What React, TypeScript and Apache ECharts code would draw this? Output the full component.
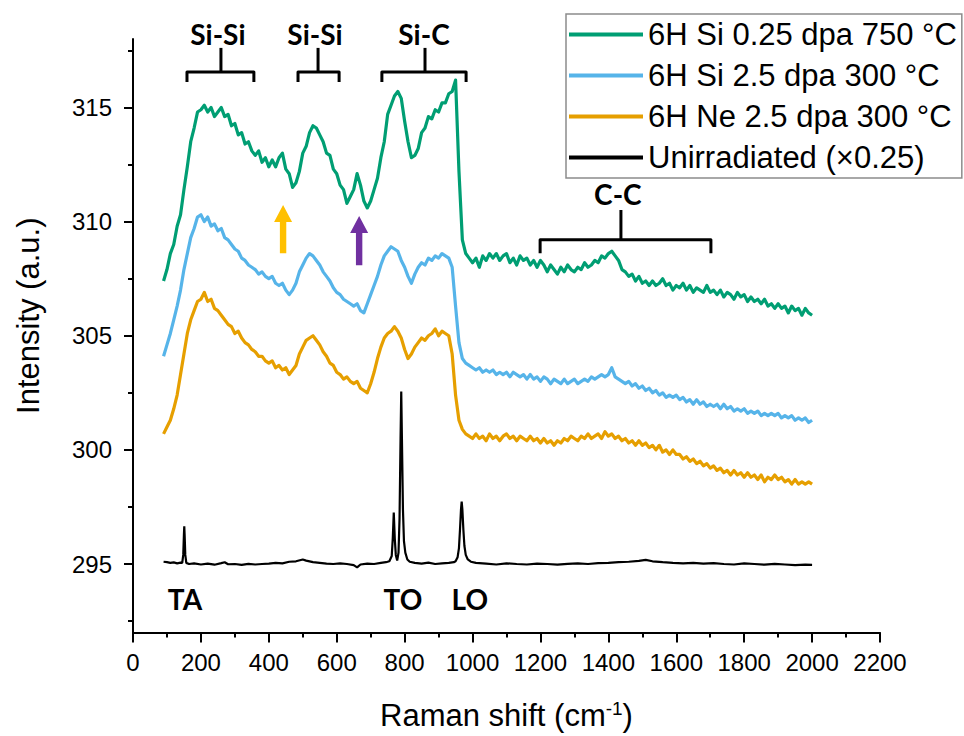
import React, { useEffect, useRef } from "react";
import * as echarts from "echarts";

// Raman shift grid (cm^-1) for the irradiated spectra
const ramanShift = [
  90, 100, 110, 120, 130, 140, 150, 160, 170, 180,
  190, 200, 210, 220, 230, 240, 250, 260, 270, 280,
  290, 300, 310, 320, 330, 340, 350, 360, 370, 380,
  390, 400, 410, 420, 430, 440, 450, 460, 470, 480,
  490, 500, 510, 520, 530, 540, 550, 560, 570, 580,
  590, 600, 610, 620, 630, 640, 650, 660, 670, 680,
  690, 700, 710, 720, 730, 740, 750, 760, 770, 780,
  790, 800, 810, 820, 830, 840, 850, 860, 870, 880,
  890, 900, 910, 920, 930, 940, 950, 960, 970, 980,
  990, 1000, 1010, 1020, 1030, 1040, 1050, 1060, 1070, 1080,
  1090, 1100, 1110, 1120, 1130, 1140, 1150, 1160, 1170, 1180,
  1190, 1200, 1210, 1220, 1230, 1240, 1250, 1260, 1270, 1280,
  1290, 1300, 1310, 1320, 1330, 1340, 1350, 1360, 1370, 1380,
  1390, 1400, 1410, 1420, 1430, 1440, 1450, 1460, 1470, 1480,
  1490, 1500, 1510, 1520, 1530, 1540, 1550, 1560, 1570, 1580,
  1590, 1600, 1610, 1620, 1630, 1640, 1650, 1660, 1670, 1680,
  1690, 1700, 1710, 1720, 1730, 1740, 1750, 1760, 1770, 1780,
  1790, 1800, 1810, 1820, 1830, 1840, 1850, 1860, 1870, 1880,
  1890, 1900, 1910, 1920, 1930, 1940, 1950, 1960, 1970, 1980,
  1990, 2000,
];

// 6H Si 0.25 dpa 750 °C
const siLowDose750 = [
  307.4, 307.9, 308.6, 309.0, 309.8, 310.3, 311.4, 312.4, 313.5, 314.1,
  314.8, 314.9, 315.1, 314.8, 315.0, 314.6, 314.8, 315.0, 314.6, 314.7,
  314.2, 314.3, 313.8, 313.9, 313.4, 313.5, 313.1, 312.9, 313.1, 312.6,
  312.8, 312.4, 312.7, 312.4, 312.8, 313.0, 312.3, 312.1, 311.5, 311.7,
  312.2, 313.0, 313.3, 313.9, 314.2, 314.1, 313.8, 313.5, 313.0, 312.9,
  312.3, 312.1, 311.6, 311.4, 310.8, 311.1, 311.4, 312.1, 311.6, 310.9,
  310.6, 310.9, 311.4, 311.9, 312.8, 313.5, 314.7, 315.1, 315.5, 315.7,
  315.4, 314.4, 313.5, 312.8, 312.9, 313.2, 313.9, 314.1, 314.6, 314.5,
  314.9, 314.8, 315.2, 315.2, 315.6, 315.7, 316.2, 312.2, 309.2, 308.6,
  308.4, 308.2, 308.4, 308.0, 308.5, 308.3, 308.6, 308.4, 308.6, 308.3,
  308.5, 308.6, 308.2, 308.4, 308.1, 308.5, 308.3, 308.4, 308.1, 308.3,
  308.0, 308.3, 308.1, 307.8, 308.1, 307.9, 307.7, 308.0, 307.8, 308.1,
  307.9, 307.8, 308.0, 307.9, 308.2, 308.0, 308.1, 308.3, 308.2, 308.5,
  308.4, 308.6, 308.7, 308.5, 308.3, 307.9, 307.8, 307.6, 307.7, 307.4,
  307.6, 307.3, 307.4, 307.2, 307.4, 307.2, 307.3, 307.5, 307.2, 307.3,
  307.0, 307.2, 307.1, 307.3, 307.0, 307.2, 306.9, 307.1, 307.0, 306.9,
  307.2, 306.9, 307.0, 306.8, 307.0, 306.7, 306.9, 306.8, 306.6, 306.9,
  306.7, 306.8, 306.5, 306.7, 306.5, 306.6, 306.4, 306.6, 306.3, 306.4,
  306.2, 306.4, 306.2, 306.3, 306.0, 306.3, 306.1, 306.2, 305.9, 306.2,
  306.0, 305.9,
];

// 6H Si 2.5 dpa 300 °C
const siHighDose300 = [
  304.1, 304.6, 305.1, 305.7, 306.3, 307.0, 307.9, 308.6, 309.3, 309.7,
  310.2, 310.3, 310.0, 310.2, 309.8, 309.9, 309.6, 309.7, 309.3, 309.2,
  309.0, 308.8, 308.7, 308.4, 308.3, 308.1, 308.0, 307.9, 307.7, 307.8,
  307.6, 307.5, 307.6, 307.3, 307.2, 307.3, 307.0, 306.8, 307.0, 307.3,
  307.8, 308.1, 308.4, 308.6, 308.5, 308.3, 308.1, 307.8, 307.6, 307.4,
  307.1, 306.9, 306.8, 306.6, 306.5, 306.4, 306.3, 306.4, 306.1, 306.0,
  306.4, 306.8, 307.2, 307.6, 308.1, 308.5, 308.7, 308.9, 308.8, 308.7,
  308.3, 308.0, 307.6, 307.3, 307.7, 308.0, 308.2, 308.1, 308.4, 308.3,
  308.5, 308.4, 308.6, 308.5, 308.4, 308.0, 306.3, 304.7, 304.0, 303.8,
  303.7, 303.6, 303.5, 303.6, 303.4, 303.5, 303.4, 303.5, 303.3, 303.4,
  303.3, 303.4, 303.2, 303.4, 303.3, 303.2, 303.3, 303.1, 303.3, 303.1,
  303.2, 303.0, 303.2, 303.1, 302.9, 303.1, 303.0, 302.9, 303.1, 302.9,
  303.0, 303.1, 302.9, 303.0, 303.1, 303.0, 303.2, 303.1, 303.2, 303.3,
  303.2, 303.3, 303.6, 303.2, 303.1, 303.0, 302.9, 303.0, 302.8, 302.9,
  302.7, 302.8, 302.6, 302.7, 302.5, 302.6, 302.4, 302.5, 302.3, 302.4,
  302.3, 302.4, 302.2, 302.3, 302.1, 302.2, 302.0, 302.2, 302.0, 302.1,
  301.9, 302.0, 301.9, 302.0, 301.8, 302.0, 301.8, 301.9, 301.7, 301.8,
  301.7, 301.8, 301.6, 301.7, 301.6, 301.7, 301.5, 301.6, 301.5, 301.6,
  301.5, 301.6, 301.4, 301.5, 301.4, 301.5, 301.3, 301.4, 301.3, 301.4,
  301.2, 301.3,
];

// 6H Ne 2.5 dpa 300 °C
const neHighDose300 = [
  300.7, 301.0, 301.3, 301.8, 302.4, 303.3, 304.2, 305.1, 305.7, 306.1,
  306.5, 306.6, 306.9, 306.5, 306.6, 306.2, 306.1, 305.9, 305.7, 305.5,
  305.4, 305.1, 305.2, 304.9, 304.7, 304.6, 304.4, 304.3, 304.1, 304.1,
  303.9, 303.8, 303.9, 303.6, 303.7, 303.5, 303.6, 303.3, 303.5, 303.7,
  304.2, 304.5, 304.8, 304.9, 305.0, 304.8, 304.6, 304.3, 304.1, 303.8,
  303.7, 303.4, 303.3, 303.1, 303.2, 303.0, 302.9, 303.0, 302.7, 302.6,
  302.5, 302.9, 303.4, 304.0, 304.5, 304.9, 305.1, 305.2, 305.4, 305.2,
  304.9, 304.4, 304.0, 304.2, 304.5, 304.7, 304.9, 304.8, 305.0, 305.1,
  305.3, 305.0, 305.2, 305.1, 305.0, 304.2, 302.4, 301.3, 300.9, 300.7,
  300.6, 300.5, 300.7, 300.5, 300.6, 300.4, 300.7, 300.5, 300.6, 300.4,
  300.6, 300.7, 300.5, 300.6, 300.4, 300.6, 300.5, 300.4, 300.6, 300.4,
  300.5, 300.3, 300.5, 300.3, 300.4, 300.2, 300.4, 300.3, 300.5, 300.4,
  300.6, 300.5, 300.4, 300.6, 300.5, 300.7, 300.5, 300.6, 300.7, 300.5,
  300.8, 300.6, 300.7, 300.5, 300.6, 300.4, 300.5, 300.3, 300.4, 300.2,
  300.4, 300.2, 300.3, 300.1, 300.2, 300.0, 300.2, 299.9, 300.0, 299.8,
  300.0, 299.8, 299.8, 299.6, 299.7, 299.5, 299.6, 299.4, 299.5, 299.3,
  299.4, 299.2, 299.3, 299.1, 299.2, 299.0, 299.1, 298.9, 299.1, 298.9,
  299.0, 298.8, 299.0, 298.8, 298.9, 298.7, 298.9, 298.6, 298.8, 298.7,
  298.9, 298.7, 298.8, 298.6, 298.7, 298.5, 298.7, 298.5, 298.6, 298.5,
  298.6, 298.5,
];

// Unirradiated (x0.25): its own shift grid, denser around the phonon peaks
const unirradiatedShift = [
  90, 100, 110, 120, 130, 140, 145, 148, 150, 151,
  152, 154, 157, 165, 180, 200, 220, 240, 260, 270,
  280, 300, 320, 340, 360, 380, 400, 420, 440, 460,
  480, 500, 510, 530, 550, 570, 590, 610, 630, 650,
  660, 670, 690, 710, 730, 745, 755, 762, 765, 768,
  771, 774, 778, 782, 785, 788, 790, 792, 795, 798,
  802, 808, 815, 830, 850, 870, 890, 910, 930, 945,
  950, 956, 960, 963, 966, 968, 970, 973, 976, 980,
  986, 995, 1010, 1040, 1070, 1100, 1130, 1160, 1190, 1220,
  1250, 1280, 1310, 1340, 1370, 1400, 1430, 1460, 1490, 1510,
  1530, 1560, 1590, 1620, 1650, 1680, 1710, 1740, 1770, 1800,
  1830, 1860, 1890, 1920, 1950, 1980, 2000,
];
const unirradiated = [
  295.10, 295.08, 295.05, 295.07, 295.03, 295.06, 295.05, 295.40, 296.30, 296.65,
  296.30, 295.40, 295.05, 295.00, 295.03, 294.98, 295.02, 294.97, 295.04, 295.08,
  294.99, 295.00, 294.96, 295.01, 294.98, 295.00, 295.02, 295.05, 295.03, 295.10,
  295.12, 295.20, 295.15, 295.08, 295.05, 295.02, 295.00, 295.03, 295.00, 294.95,
  294.85, 294.98, 295.02, 295.00, 295.05, 295.08, 295.12, 295.35, 296.10, 297.25,
  296.10, 295.40, 295.15, 295.50, 297.00, 300.50, 302.56, 300.50, 297.40, 296.00,
  295.50, 295.20, 295.10, 295.05, 295.02, 295.06, 295.00, 295.03, 295.05, 295.08,
  295.12, 295.30, 295.70, 296.50, 297.40, 297.73, 297.40, 296.50, 295.80, 295.40,
  295.20, 295.10, 295.05, 295.02, 294.98, 295.03, 295.00, 294.98, 295.02, 295.00,
  294.97, 295.01, 295.03, 295.00, 295.04, 295.05, 295.08, 295.10, 295.14, 295.18,
  295.12, 295.08, 295.05, 295.03, 295.05, 295.02, 295.04, 295.00, 294.98, 295.03,
  295.00, 294.97, 295.01, 294.98, 294.95, 294.97, 294.96,
];

const seriesNames = [
  "6H Si 0.25 dpa 750 °C",
  "6H Si 2.5 dpa 300 °C",
  "6H Ne 2.5 dpa 300 °C",
  "Unirradiated (×0.25)",
];
const seriesColors = ["#009E73", "#56B4E9", "#E69F00", "#000000"];

const yMajorTicks = [295, 300, 305, 310, 315];
const yMinorTicks = [292.5, 297.5, 302.5, 307.5, 312.5, 317.5];

// Band annotations (data coordinates)
const bracketLabels = ["Si-Si", "Si-Si", "Si-C", "C-C"];
const bracketLeft = [159, 486, 733, 1199];
const bracketRight = [356, 607, 981, 1702];
const bracketCenter = [259, 545, 860, 1437];
const bracketBarY = [316.55, 316.55, 316.55, 309.21];
const bracketLegY = [316.12, 316.12, 316.12, 308.61];
const bracketStemY = [317.61, 317.61, 317.61, 310.51];
const bracketLabelX = [250, 536, 857, 1428];
const bracketLabelY = [318.2, 318.2, 318.2, 311.2];

const phononLabels = ["TA", "TO", "LO"];
const phononLabelX = [153, 795, 992];
const phononLabelY = [293.46, 293.46, 293.46];

const arrowX = [442, 666];
const arrowTipY = [310.73, 310.25];
const arrowBaseY = [308.61, 308.09];
const arrowColors = ["#FFC000", "#7030A0"];

const FONT = "'Liberation Sans', Arial, sans-serif";
const BOLD_FONT = "Lato, 'Open Sans', sans-serif";

export default function App() {
  const ref = useRef<HTMLDivElement>(null);

  useEffect(() => {
    if (!ref.current) return;
    const chart = echarts.init(ref.current, null, { renderer: "svg" });

    const spectra = [siLowDose750, siHighDose300, neHighDose300];
    const lineSeries: any[] = spectra.map((vals, i) => ({
      name: seriesNames[i],
      type: "line",
      data: ramanShift.map((x, j) => [x, vals[j]]),
      showSymbol: false,
      symbol: "none",
      lineStyle: { color: seriesColors[i], width: 3.2, join: "round" },
      itemStyle: { color: seriesColors[i] },
      z: 3,
    }));
    lineSeries.push({
      name: seriesNames[3],
      type: "line",
      data: unirradiatedShift.map((x, j) => [x, unirradiated[j]]),
      showSymbol: false,
      symbol: "none",
      lineStyle: { color: seriesColors[3], width: 2.2 },
      itemStyle: { color: seriesColors[3] },
      z: 3,
    });

    const annotationSeries = {
      type: "custom",
      silent: true,
      z: 10,
      data: [[0, 300]],
      renderItem: (params: any, api: any) => {
        if (params.dataIndex !== 0) return null;
        const children: any[] = [];
        const stroke = { stroke: "#000", lineWidth: 3, fill: "none", lineJoin: "round", lineCap: "butt" };
        bracketLabels.forEach((lab, i) => {
          const a = api.coord([bracketLeft[i], bracketLegY[i]]);
          const b = api.coord([bracketLeft[i], bracketBarY[i]]);
          const c = api.coord([bracketRight[i], bracketBarY[i]]);
          const d = api.coord([bracketRight[i], bracketLegY[i]]);
          children.push({ type: "polyline", shape: { points: [a, b, c, d] }, style: stroke });
          const s1 = api.coord([bracketCenter[i], bracketBarY[i]]);
          const s2 = api.coord([bracketCenter[i], bracketStemY[i]]);
          children.push({
            type: "line",
            shape: { x1: s1[0], y1: s1[1], x2: s2[0], y2: s2[1] },
            style: { stroke: "#000", lineWidth: 3 },
          });
          const t = api.coord([bracketLabelX[i], bracketLabelY[i]]);
          children.push({
            type: "text",
            x: t[0],
            y: t[1],
            style: {
              text: lab,
              fontFamily: BOLD_FONT,
              fontWeight: "bold",
              fontSize: 28,
              fill: "#000",
              align: "center",
              verticalAlign: "middle",
            },
          });
        });
        phononLabels.forEach((lab, i) => {
          const t = api.coord([phononLabelX[i], phononLabelY[i]]);
          children.push({
            type: "text",
            x: t[0],
            y: t[1],
            style: {
              text: lab,
              fontFamily: BOLD_FONT,
              fontWeight: "bold",
              fontSize: 28,
              fill: "#000",
              align: "center",
              verticalAlign: "middle",
            },
          });
        });
        arrowX.forEach((x, i) => {
          const tip = api.coord([x, arrowTipY[i]]);
          const base = api.coord([x, arrowBaseY[i]]);
          const headH = 17;
          const headW = 9;
          const shaftW = 3.2;
          const cx = tip[0];
          const hy = tip[1] + headH;
          children.push({
            type: "polygon",
            shape: {
              points: [
                [cx, tip[1]],
                [cx + headW, hy],
                [cx + shaftW, hy],
                [cx + shaftW, base[1]],
                [cx - shaftW, base[1]],
                [cx - shaftW, hy],
                [cx - headW, hy],
              ],
            },
            style: { fill: arrowColors[i], stroke: "none" },
          });
        });
        return { type: "group", children };
      },
    };

    chart.setOption({
      animation: false,
      backgroundColor: "#ffffff",
      grid: { left: 133, top: 39, width: 747, height: 603, containLabel: false },
      legend: {
        orient: "vertical",
        left: 566,
        top: 14,
        padding: [4, 5, 4, 3],
        itemGap: 8,
        itemWidth: 74,
        itemHeight: 4,
        icon: "rect",
        borderColor: "#8c8c8c",
        borderWidth: 1.5,
        backgroundColor: "#ffffff",
        selectedMode: false,
        data: seriesNames,
        textStyle: { fontFamily: FONT, fontSize: 31, color: "#000", lineHeight: 33 },
      },
      xAxis: {
        type: "value",
        min: 0,
        max: 2200,
        interval: 200,
        name: "{a|Raman shift (cm}{s|-1}{a|)}",
        nameLocation: "middle",
        nameGap: 66,
        nameTextStyle: {
          rich: {
            a: { fontFamily: FONT, fontSize: 31, color: "#000" },
            s: { fontFamily: FONT, fontSize: 19, color: "#000", padding: [0, 0, 15, 0] },
          },
        },
        axisLine: { show: true, lineStyle: { color: "#000", width: 2 } },
        axisTick: { show: true, length: 10, lineStyle: { color: "#000", width: 2 } },
        minorTick: { show: true, splitNumber: 2, length: 5, lineStyle: { color: "#000", width: 2 } },
        axisLabel: {
          fontFamily: FONT,
          fontSize: 24,
          color: "#000",
          margin: 18,
          formatter: (v: number) => String(v),
        },
        splitLine: { show: false },
        minorSplitLine: { show: false },
      },
      yAxis: [
        {
          type: "value",
          min: 292,
          max: 318,
          position: "left",
          name: "Intensity (a.u.)",
          nameLocation: "middle",
          nameGap: 89,
          nameTextStyle: { fontFamily: FONT, fontSize: 31, color: "#000", padding: [0, 0, 0, 40] },
          axisLine: { show: true, lineStyle: { color: "#000", width: 2 } },
          axisTick: { show: true, length: 9, customValues: yMajorTicks, lineStyle: { color: "#000", width: 2 } },
          axisLabel: {
            fontFamily: FONT,
            fontSize: 24,
            color: "#000",
            margin: 21,
            customValues: yMajorTicks,
            formatter: (v: number) => String(v),
          },
          splitLine: { show: false },
        },
        {
          type: "value",
          min: 292,
          max: 318,
          position: "left",
          offset: 0,
          axisLine: { show: false },
          axisTick: { show: true, length: 5, customValues: yMinorTicks, lineStyle: { color: "#000", width: 2 } },
          axisLabel: { show: false },
          splitLine: { show: false },
        },
      ],
      series: [...lineSeries, annotationSeries],
    });

    return () => chart.dispose();
  }, []);

  return (
    <div
      ref={ref}
      style={{ position: "absolute", left: 0, top: 0, width: 964, height: 736, background: "#fff" }}
    />
  );
}
